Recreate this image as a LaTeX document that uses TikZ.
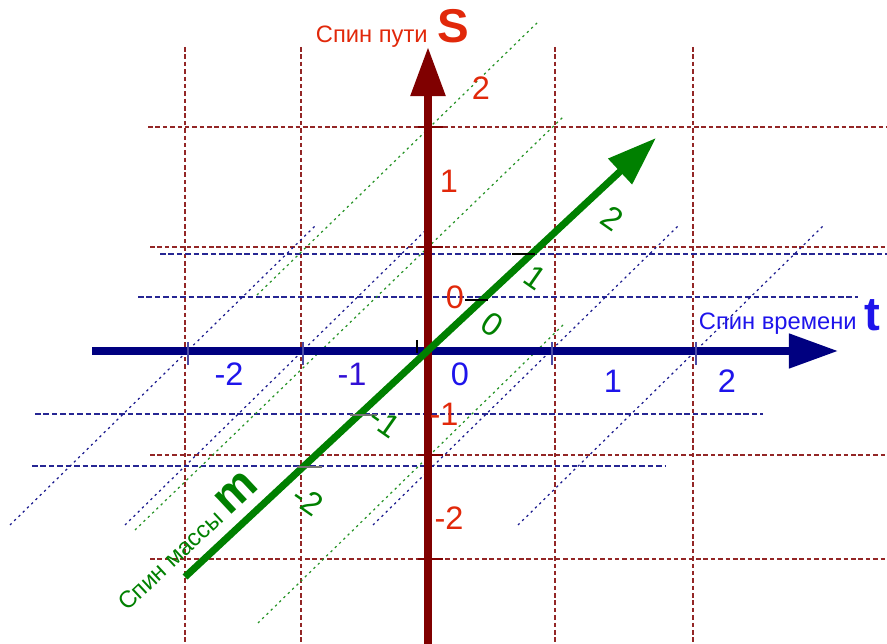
\documentclass[tikz,border=0pt]{standalone}
\usepackage{fontspec}
\setmainfont{Liberation Sans}
\usetikzlibrary{arrows.meta}

\definecolor{axisred}{RGB}{128,0,0}
\definecolor{axisblue}{RGB}{0,0,128}
\definecolor{axisgreen}{RGB}{0,128,0}
\definecolor{labred}{RGB}{225,40,10}
\definecolor{labblue}{RGB}{30,20,235}

\tikzset{
  redgrid/.style={draw=axisred!85,line width=0.6pt,dash pattern=on 2.6pt off 1.6pt},
  bluegrid/.style={draw=axisblue!85,line width=0.6pt,dash pattern=on 3.2pt off 1.6pt},
  bluediag/.style={draw=axisblue!90,line width=0.7pt,dash pattern=on 1.3pt off 2.1pt},
  greendiag/.style={draw=axisgreen!85,line width=0.7pt,dash pattern=on 1.3pt off 2.1pt},
  spinaxis/.style={line width=#1,-{Triangle[length=28pt,width=19pt]}},
  spinaxis/.default=4pt,
  small tick/.style={line width=0.8pt},
  spinlabel/.style={inner sep=0,font=\fontsize{13.5}{16}\selectfont},
  spinletter/.style={inner sep=0,font=\fontsize{27}{30}\selectfont\bfseries},
  scalenum/.style={inner sep=0,font=\fontsize{18.5}{20}\selectfont}
}

\begin{document}
\begin{tikzpicture}[x=0.02cm,y=-0.02cm]
\useasboundingbox (0,0) rectangle (887,644);

% grid of the s and t values
\draw[redgrid] (185,47) -- (185,644);
\draw[redgrid] (301,47) -- (301,644);
\draw[redgrid] (555,47) -- (555,644);
\draw[redgrid] (693,47) -- (693,644);
\draw[redgrid] (148,127) -- (887,127);
\draw[redgrid] (150,247) -- (887,247);
\draw[redgrid] (150,455) -- (887,455);
\draw[redgrid] (150,559) -- (887,559);
\draw[bluegrid] (160,254) -- (887,254);
\draw[bluegrid] (138,297) -- (858,297);
\draw[bluegrid] (35,414) -- (763,414);
\draw[bluegrid] (32,466) -- (665,466);

% skew lines
\draw[bluediag] (10,525) -- (315,226);
\draw[bluediag] (125,525) -- (430,226);
\draw[bluediag] (373,525) -- (678,226);
\draw[bluediag] (518,525) -- (823,226);
\draw[greendiag] (257,295) -- (537,23);
\draw[greendiag] (135,530) -- (563,117);
\draw[greendiag] (258,623) -- (563,325);

% axes
\coordinate (O) at (428,350);
\coordinate (tstart) at (92,351);
\coordinate (tend) at (838,351);
\coordinate (sstart) at (428,644);
\coordinate (send) at (428,47);
\coordinate (mstart) at (185,577);
\coordinate (mend) at (656,138);
\draw[spinaxis,axisblue] (tstart) -- (tend);
\draw[spinaxis=4.5pt,axisred] (sstart) -- (send);
\draw[spinaxis,axisgreen] (mstart) -- (mend);

% ticks
\draw[small tick,axisblue!70] (188,342) -- (188,365);
\draw[small tick,axisblue!70] (303,342) -- (303,365);
\draw[small tick,axisblue!70] (552,342) -- (552,365);
\draw[small tick,axisblue!70] (696,342) -- (696,365);
\draw[small tick,axisred] (418,127) -- (443,127);
\draw[small tick,axisred] (418,247) -- (443,247);
\draw[small tick,axisred] (418,455) -- (443,455);
\draw[small tick,axisred] (418,559) -- (443,559);
\draw[small tick,black] (465,300) -- (488,300);
\draw[small tick,black] (512,254) -- (535,254);
\draw[small tick,black!55] (350,415) -- (377,415);
\draw[small tick,black!55] (297,467) -- (322,467);
\draw[small tick,black] (417,340) -- (417,353);

% axis names
\node[spinlabel,labred,anchor=base east] (sname) at (428,43) {Спин пути};
\node[spinletter,labred,anchor=base west] (sletter) at (437,43) {S};
\node[spinlabel,labblue,anchor=base east] (tname) at (857,330) {Спин времени};
\node[spinletter,labblue,anchor=base west] (tletter) at (864,331) {t};
\node[spinlabel,axisgreen,anchor=base west,rotate=43] (mname) at (127,612)
  {Спин массы {\fontsize{27}{30}\selectfont\bfseries m}};

% numbers
\node[scalenum,labred] (s2) at (481,88) {2};
\node[scalenum,labred] (s1) at (449,181) {1};
\node[scalenum,labred] (s0) at (455,297) {0};
\node[scalenum,labred] (sm1) at (444,414) {-1};
\node[scalenum,labred] (sm2) at (449,518) {-2};
\node[scalenum,labblue] (tm2) at (229,374) {-2};
\node[scalenum,labblue!80!violet] (tm1) at (352,374) {-1};
\node[scalenum,labblue] (t0) at (460,374) {0};
\node[scalenum,labblue] (t1) at (613,381) {1};
\node[scalenum,labblue] (t2) at (727,381) {2};
\node[scalenum,axisgreen,rotate=-35] (m2) at (612,218) {2};
\node[scalenum,axisgreen,rotate=-35] (m1) at (535,278) {1};
\node[scalenum,axisgreen,rotate=-35] (m0) at (492,325) {0};
\node[scalenum,axisgreen,rotate=-35] (mm1) at (385,422) {-1};
\node[scalenum,axisgreen,rotate=-35] (mm2) at (308,500) {-2};

\end{tikzpicture}
\end{document}
